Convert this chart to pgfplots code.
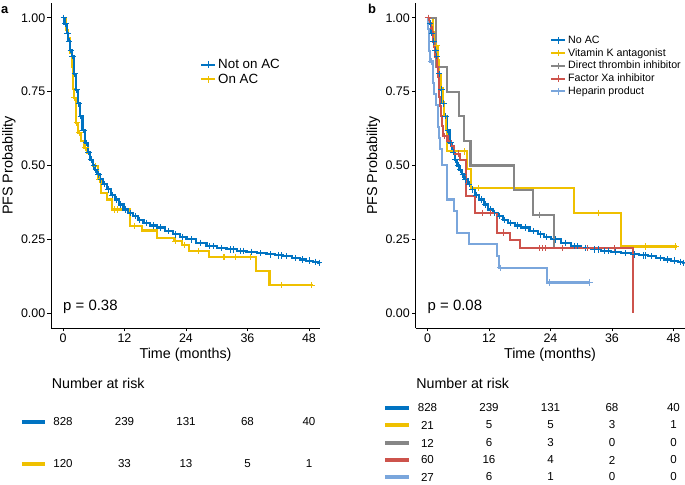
\documentclass[border=0pt]{standalone}
\usepackage{pgfplots}
\pgfplotsset{compat=1.18}
\usepackage{pgfplotstable}
\usepackage{fontspec}
\setmainfont{Liberation Sans}

\definecolor{cBlue}{HTML}{0073C2}
\definecolor{cYel}{HTML}{EFC000}
\definecolor{cGray}{HTML}{868686}
\definecolor{cRed}{HTML}{CD534C}
\definecolor{cLBlue}{HTML}{7AA6DC}

% ---- Not on AC / No AC (same curve in both panels)
\pgfplotstableread{
t S
0 1.0
0.3 0.98
0.72 0.948
1.0 0.92
1.4 0.89
1.7 0.87
2.1 0.81
2.54 0.757
2.9 0.71
3.3 0.667
3.8 0.62
4.3 0.577
4.8 0.545
5.3 0.52
5.8 0.50
6.2 0.486
6.7 0.47
7.2 0.453
7.8 0.437
8.5 0.419
9.3 0.40
10.1 0.385
11.0 0.368
11.8 0.351
12.7 0.34
13.7 0.329
14.7 0.316
15.7 0.306
17.0 0.297
18.3 0.29
19.9 0.278
21.5 0.267
22.8 0.258
24.1 0.25
26.0 0.238
28.0 0.227
30.0 0.221
31.9 0.216
33.9 0.211
35.8 0.208
37.8 0.203
39.7 0.199
41.3 0.196
43.0 0.193
44.6 0.187
46.2 0.182
47.5 0.178
48.8 0.174
49.8 0.171
50.3 0.168
}\noac
\pgfplotstableread{
t S
0.15 1.0
0.5 0.98
0.85 0.948
1.2 0.92
1.55 0.89
1.85 0.87
2.3 0.81
2.7 0.757
3.1 0.71
3.5 0.667
4.0 0.62
4.5 0.577
5.0 0.545
5.5 0.52
6.0 0.50
6.4 0.486
6.9 0.47
7.4 0.453
8.1 0.437
8.8 0.419
9.6 0.40
10.5 0.385
11.3 0.368
12.2 0.351
13.1 0.34
14.1 0.329
15.0 0.316
16.2 0.306
17.6 0.297
19.1 0.29
20.6 0.278
22.0 0.267
23.3 0.258
25.0 0.25
26.9 0.238
28.6 0.227
29.3 0.227
30.9 0.221
32.6 0.216
33.3 0.216
34.6 0.211
35.3 0.211
36.7 0.208
38.6 0.203
40.4 0.199
42.1 0.196
42.6 0.196
43.7 0.193
45.4 0.187
46.8 0.182
48.1 0.178
49.3 0.174
50.0 0.171
}\noacC

% ---- On AC (panel a)
\pgfplotstableread{
t S
0 1.0
0.5 0.96
1.0 0.93
1.4 0.88
1.7 0.835
1.9 0.76
2.1 0.729
2.5 0.644
3.0 0.61
3.6 0.582
4.2 0.56
4.7 0.543
5.3 0.52
5.9 0.498
6.9 0.453
7.5 0.408
8.5 0.385
9.5 0.351
13.1 0.295
15.4 0.28
18.3 0.254
21.6 0.244
23.2 0.23
24.5 0.21
28.5 0.19
37.7 0.143
40.3 0.095
48.8 0.095
}\onac
\pgfplotstableread{
t S
2.2 0.729
2.7 0.644
3.2 0.61
4.4 0.56
6.3 0.498
7.1 0.453
10.0 0.351
10.6 0.351
14.0 0.295
21.9 0.244
23.8 0.23
26.4 0.21
31.3 0.19
31.6 0.19
33.6 0.19
36.5 0.19
42.7 0.095
48.5 0.095
}\onacC

% ---- Vitamin K antagonist
\pgfplotstableread{
t S
0 1.0
1.0 0.952
1.5 0.905
2.0 0.857
2.3 0.81
2.6 0.762
3.1 0.714
3.3 0.667
3.6 0.619
3.84 0.548
7.7 0.487
8.5 0.424
28.5 0.339
37.7 0.226
48.6 0.226
}\vka
\pgfplotstableread{
t S
1.8 0.905
7.2 0.548
10.0 0.424
33.4 0.339
42.5 0.226
48.4 0.226
}\vkaC

% ---- Direct thrombin inhibitor
\pgfplotstableread{
t S
0 1.0
1.69 0.833
3.84 0.75
6.1 0.667
7.1 0.583
8.4 0.5
16.8 0.417
20.6 0.333
24.6 0.222
}\dti
\pgfplotstableread{
t S
21.9 0.333
}\dtiC

% ---- Factor Xa inhibitor
\pgfplotstableread{
t S
0 1.0
0.3 0.983
0.6 0.967
0.9 0.95
1.1 0.917
1.3 0.9
1.5 0.867
1.8 0.833
2.0 0.8
2.2 0.767
2.3 0.733
2.4 0.7
2.6 0.667
2.8 0.633
3.0 0.6
3.9 0.583
4.5 0.567
5.1 0.54
6.4 0.52
7.5 0.396
9.2 0.34
13.5 0.273
16.1 0.248
18.0 0.22
40.1 0.0
}\fxa
\pgfplotstableread{
t S
0.1 1.0
3.4 0.6
6.0 0.54
10.7 0.34
12.3 0.34
14.8 0.273
21.9 0.22
22.5 0.22
23.0 0.22
26.3 0.22
31.2 0.22
36.4 0.22
}\fxaC

% ---- Heparin product
\pgfplotstableread{
t S
0 1.0
0.15 0.963
0.25 0.926
0.35 0.889
0.45 0.852
1.0 0.815
1.1 0.778
1.2 0.741
1.6 0.704
2.0 0.667
2.1 0.63
2.2 0.593
2.5 0.556
2.86 0.503
3.84 0.385
5.14 0.346
5.8 0.273
8.07 0.233
13.6 0.194
13.9 0.154
23.4 0.104
31.7 0.104
}\hep
\pgfplotstableread{
t S
0.7 0.852
14.2 0.154
23.8 0.104
31.7 0.104
}\hepC

% ---- risk tables (y = row position)
\pgfplotstableread{
t y n
0 -422 828
12 -422 239
24 -422 131
36 -422 68
48 -422 40
0 -464 120
12 -464 33
24 -464 13
36 -464 5
48 -464 1
}\riskA
\pgfplotstableread{
t y n
0 -408 828
12 -408 239
24 -408 131
36 -408 68
48 -408 40
0 -425 21
12 -425 5
24 -425 5
36 -425 3
48 -425 1
0 -443 12
12 -443 6
24 -443 3
36 -443 0
48 -443 0
0 -460 60
12 -460 16
24 -460 4
36 -460 2
48 -460 0
0 -477 27
12 -477 6
24 -477 1
36 -477 0
48 -477 0
}\riskB

\pgfplotsset{
  kmaxis/.style={
    scale only axis, width=269bp, height=325bp,
    xmin=-2.34, xmax=50.15, ymin=-0.05, ymax=1.05,
    axis lines*=left, axis line style={-, line width=0.8bp, black},
    xtick={0,12,24,36,48}, ytick={0,0.25,0.5,0.75,1},
    tick align=outside, major tick length=3.5bp,
    tick style={line width=0.8bp, black},
    /pgf/number format/assume math mode=true,
    ticklabel style={font=\fontsize{12.5}{15}\selectfont},
    yticklabel style={/pgf/number format/fixed, /pgf/number format/fixed zerofill, /pgf/number format/precision=2, inner xsep=2bp},
    xticklabel style={inner ysep=2bp},
    xlabel={Time (months)}, ylabel={PFS Probability},
    label style={font=\fontsize{14.4}{17}\selectfont},
    legend cell align=left,
    legend image code/.code={\draw[##1, mark repeat=2, mark phase=2] plot coordinates {(0bp,0bp) (7bp,0bp) (14bp,0bp)};},
  },
  km/.style={const plot, mark=none, line width=2.1bp, forget plot},
  cens/.style={only marks, mark=+, mark size=3.2bp, mark options={line width=1bp}, forget plot},
  legkey/.style={#1, line width=2bp, mark=+, mark size=3.2bp, mark options={line width=1bp}},
  riskaxis/.style={
    scale only axis, width=269bp, height=115bp,
    xmin=-2.34, xmax=50.15, ymin=-485, ymax=-370,
    hide axis, clip=false,
  },
  risknums/.style={draw=none, mark=none, nodes near coords, point meta=explicit symbolic,
    nodes near coords align={center},
    every node near coord/.append style={anchor=center, font=\fontsize{11.6}{13}\selectfont, text=black}},
}

\begin{document}
\begin{tikzpicture}
\path[use as bounding box] (0,0) rectangle (685bp,485bp);

% ================= Panel a =================
\begin{axis}[kmaxis, at={(51bp,157bp)}, anchor=south west,
  legend style={at={(0.554,0.834)}, anchor=north west, draw=none, fill=none,
    font=\fontsize{13.4}{16}\selectfont, inner sep=0pt, row sep=0pt,
    nodes={inner ysep=2bp, inner xsep=2bp}}]
\addlegendimage{legkey=cBlue}
\addlegendentry{Not on AC}
\addlegendimage{legkey=cYel}
\addlegendentry{On AC}
\addplot[km, cYel] table[x=t,y=S] {\onac};
\addplot[cens, cYel] table[x=t,y=S] {\onacC};
\addplot[km, cBlue] table[x=t,y=S] {\noac};
\addplot[cens, cBlue] table[x=t,y=S] {\noacC};
\node[anchor=west, inner sep=0pt, font=\fontsize{15}{18}\selectfont] at (axis cs:0,0.022) {p = 0.38};
\end{axis}

% ================= Panel b =================
\begin{axis}[kmaxis, at={(415.5bp,157bp)}, anchor=south west,
  legend style={at={(0.5,0.905)}, anchor=north west, draw=none, fill=none,
    font=\fontsize{10.7}{13}\selectfont, inner sep=0pt, row sep=0pt,
    nodes={inner ysep=1.8bp, inner xsep=2bp}}]
\addlegendimage{legkey=cBlue}
\addlegendentry{No AC}
\addlegendimage{legkey=cYel}
\addlegendentry{Vitamin K antagonist}
\addlegendimage{legkey=cGray}
\addlegendentry{Direct thrombin inhibitor}
\addlegendimage{legkey=cRed}
\addlegendentry{Factor Xa inhibitor}
\addlegendimage{legkey=cLBlue}
\addlegendentry{Heparin product}
\addplot[km, cBlue] table[x=t,y=S] {\noac};
\addplot[cens, cBlue] table[x=t,y=S] {\noacC};
\addplot[km, cYel] table[x=t,y=S] {\vka};
\addplot[cens, cYel] table[x=t,y=S] {\vkaC};
\addplot[km, cGray] table[x=t,y=S] {\dti};
\addplot[cens, cGray] table[x=t,y=S] {\dtiC};
\addplot[km, cRed] table[x=t,y=S] {\fxa};
\addplot[cens, cRed] table[x=t,y=S] {\fxaC};
\addplot[km, cLBlue] table[x=t,y=S] {\hep};
\addplot[cens, cLBlue] table[x=t,y=S] {\hepC};
\node[anchor=west, inner sep=0pt, font=\fontsize{15}{18}\selectfont] at (axis cs:0,0.022) {p = 0.08};
\end{axis}

% ================= Risk tables =================
\begin{axis}[riskaxis, at={(51bp,0bp)}, anchor=south west]
\node[anchor=west, inner sep=0pt, font=\fontsize{14.3}{17}\selectfont] at (axis cs:-2.2,-383) {Number at risk};
\addplot[cBlue, line width=3.5bp] coordinates {(-8,-422) (-3.5,-422)};
\addplot[cYel, line width=3.5bp] coordinates {(-8,-464) (-3.5,-464)};
\addplot[risknums] table[x=t,y=y,meta=n] {\riskA};
\end{axis}

\begin{axis}[riskaxis, at={(415.5bp,0bp)}, anchor=south west]
\node[anchor=west, inner sep=0pt, font=\fontsize{14.3}{17}\selectfont] at (axis cs:-2.2,-383) {Number at risk};
\addplot[cBlue, line width=3.3bp] coordinates {(-8.2,-408) (-3.7,-408)};
\addplot[cYel, line width=3.3bp] coordinates {(-8.2,-425) (-3.7,-425)};
\addplot[cGray, line width=3.3bp] coordinates {(-8.2,-443) (-3.7,-443)};
\addplot[cRed, line width=3.3bp] coordinates {(-8.2,-460) (-3.7,-460)};
\addplot[cLBlue, line width=3.3bp] coordinates {(-8.2,-477) (-3.7,-477)};
\addplot[risknums] table[x=t,y=y,meta=n] {\riskB};
\end{axis}

% panel letters
\node[anchor=base west, inner sep=0pt, font=\bfseries\fontsize{13}{15}\selectfont] at (1bp,471.5bp) {a};
\node[anchor=base west, inner sep=0pt, font=\bfseries\fontsize{13}{15}\selectfont] at (368bp,471.5bp) {b};
\end{tikzpicture}
\end{document}
